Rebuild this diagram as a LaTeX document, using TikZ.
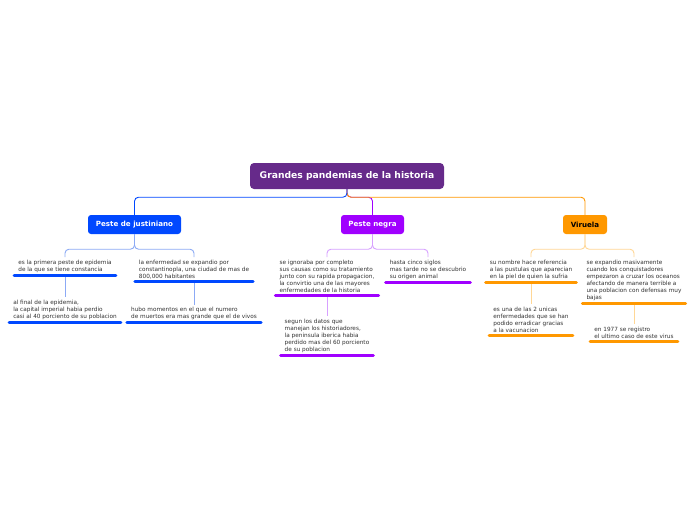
\documentclass[tikz,border=0pt]{standalone}
\usepackage{fontspec}
\setmainfont{DejaVu Sans}
\usetikzlibrary{positioning}
\definecolor{rootc}{RGB}{102,42,138}
\definecolor{jblue}{RGB}{0,72,255}
\definecolor{jlight}{RGB}{140,170,245}
\definecolor{npur}{RGB}{160,0,255}
\definecolor{nlight}{RGB}{215,160,255}
\definecolor{vora}{RGB}{255,152,0}
\definecolor{vlight}{RGB}{255,215,150}
\definecolor{txt}{RGB}{51,51,51}
\tikzset{
  rootbox/.style={fill=rootc, text=white, rounded corners=4pt, minimum width=194pt, minimum height=26pt, font=\fontsize{9.2}{11}\selectfont\bfseries, inner sep=0pt},
  mainbox/.style={rounded corners=3pt, minimum height=19pt, font=\fontsize{7.1}{9}\selectfont\bfseries, inner sep=0pt},
  leaf/.style={align=left, text=txt, font=\fontsize{5.75}{7.1}\selectfont, inner xsep=4pt, inner ysep=2.5pt, anchor=north},
  ul/.style={line width=3pt, line cap=round},
  conn/.style={line width=0.9pt, rounded corners=4pt},
  br/.style={line width=0.9pt, rounded corners=4pt},
}
\begin{document}
\begin{tikzpicture}[x=1pt,y=-1pt]
\useasboundingbox (0,0) rectangle (696,520);
\fill[white] (0,0) rectangle (696,520);

\node[rootbox] (root) at (347,176) {Grandes pandemias de la historia};
\node[mainbox, fill=jblue, text=white, minimum width=93pt] (pj) at (134.5,224.5) {Peste de justiniano};
\node[mainbox, fill=npur, text=white, minimum width=63pt] (pn) at (372.5,224.5) {Peste negra};
\node[mainbox, fill=vora, text=black, minimum width=44pt] (vi) at (585,224.5) {Viruela};

\draw[conn, npur] (root.south) -- ++(0,8) -| (pn.north);
\draw[conn, vora] (root.south) -- ++(0,8) -| (vi.north);
\draw[conn, jblue] (root.south) -- ++(0,8) -| (pj.north);

% Peste de justiniano
\node[leaf] (j1) at (65,257) {es la primera peste de epidemia\\de la que se tiene constancia};
\node[leaf] (j2) at (194,257) {la enfermedad se expandio por\\constantinopla, una ciudad de mas de\\800,000 habitantes};
\node[leaf, below=22pt of j1] (j3) {al final de la epidemia,\\la capital imperial habia perdio\\casi al 40 porciento de su poblacion};
\node[leaf, below=23pt of j2] (j4) {hubo momentos en el que el numero\\de muertos era mas grande que el de vivos};
\draw[br, jlight] (pj.south) -- ++(0,15) -| (j1.north);
\draw[br, jlight] (pj.south) -- ++(0,15) -| (j2.north);
\draw[br, jlight] (j1.south) -- (j3.north);
\draw[br, jlight] (j2.south) -- (j4.north);
\foreach \n in {j1,j2,j3,j4} \draw[ul, jblue] (\n.south west) -- (\n.south east);

% Peste negra
\node[leaf] (n1) at (327,257) {se ignoraba por completo\\sus causas como su tratamiento\\junto con su rapida propagacion,\\la convirtio una de las mayores\\enfermedades de la historia};
\node[leaf] (n2) at (428,257) {hasta cinco siglos\\mas tarde no se descubrio\\su origen animal};
\node[leaf, below=21pt of n1] (n3) {segun los datos que\\manejan los historiadores,\\la peninsula iberica habia\\perdido mas del 60 porciento\\de su poblacion};
\draw[br, nlight] (pn.south) -- ++(0,15) -| (n1.north);
\draw[br, nlight] (pn.south) -- ++(0,15) -| (n2.north);
\draw[br, nlight] (n1.south) -- (n3.north);
\foreach \n in {n1,n2,n3} \draw[ul, npur] (\n.south west) -- (\n.south east);

% Viruela
\node[leaf] (v1) at (531,257) {su nombre hace referencia\\a las pustulas que aparecian\\en la piel de quien la sufria};
\node[leaf] (v2) at (634,257) {se expandio masivamente\\cuando los conquistadores\\empezaron a cruzar los oceanos\\afectando de manera terrible a\\una poblacion con defensas muy\\bajas};
\node[leaf, below=22pt of v1] (v3) {es una de las 2 unicas\\enfermedades que se han\\podido erradicar gracias\\a la vacunacion};
\node[leaf, below=21pt of v2] (v4) {en 1977 se registro\\el ultimo caso de este virus};
\draw[br, vlight] (vi.south) -- ++(0,15) -| (v1.north);
\draw[br, vlight] (vi.south) -- ++(0,15) -| (v2.north);
\draw[br, vlight] (v1.south) -- (v3.north);
\draw[br, vlight] (v2.south) -- (v4.north);
\foreach \n in {v1,v2,v3,v4} \draw[ul, vora] (\n.south west) -- (\n.south east);
\end{tikzpicture}
\end{document}
